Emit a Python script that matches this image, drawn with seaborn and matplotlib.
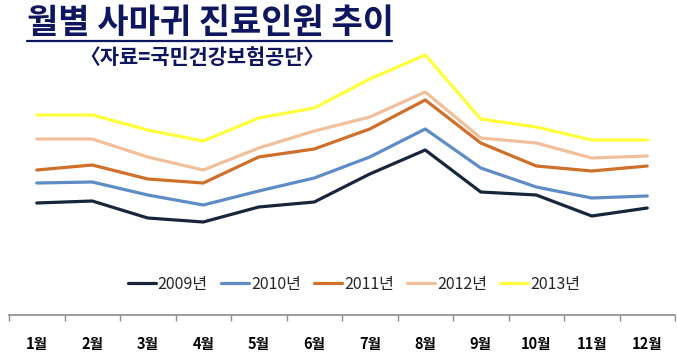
import matplotlib
matplotlib.use("Agg")
import matplotlib.pyplot as plt
from matplotlib.lines import Line2D
import seaborn as sns
import pandas as pd
import numpy as np

months = ["1월", "2월", "3월", "4월", "5월", "6월", "7월", "8월", "9월", "10월", "11월", "12월"]
years = ["2009년", "2010년", "2011년", "2012년", "2013년"]

# values (no y axis shown, relative units)
v2009 = [112, 114, 97, 93, 108, 113, 141, 165, 123, 120, 99, 107]
v2010 = [132, 133, 120, 110, 124, 137, 158, 186, 147, 128, 117, 119]
v2011 = [145, 150, 136, 132, 158, 166, 186, 215, 172, 149, 144, 149]
v2012 = [176, 176, 158, 145, 167, 184, 198, 223, 177, 172, 157, 159]
v2013 = [200, 200, 185, 174, 197, 207, 236, 260, 196, 188, 175, 175]

colors = ["#17263b", "#5e8cc6", "#cf6f2a", "#f2bf9b", "#ffff3c"]

sns.set_theme(style="white")
plt.rcParams["font.family"] = ["Noto Sans CJK KR", "DejaVu Sans"]

rows = []
for yr, vals in zip(years, [v2009, v2010, v2011, v2012, v2013]):
    for i, v in enumerate(vals):
        rows.append({"month": i, "value": v, "year": yr})
df = pd.DataFrame(rows)

fig = plt.figure(figsize=(6.77, 3.57), dpi=100)
ax = fig.add_axes([9 / 677, 42 / 357, 666 / 677, 275 / 357])

sns.lineplot(data=df, x="month", y="value", hue="year", palette=colors,
             linewidth=2.3, ax=ax, legend=False)

ax.set_xlim(-0.5, 11.5)
ax.set_ylim(0, 275)
ax.set_xlabel("")
ax.set_ylabel("")
ax.set_yticks([])
ax.set_xticks(range(12))
ax.set_xticklabels(months, fontsize=10.5, fontweight="bold", color="black")
ax.set_xticks(np.arange(-0.5, 12, 1), minor=True)
ax.tick_params(axis="x", which="major", length=0, pad=15)
ax.tick_params(axis="x", which="minor", length=4.5, width=1, color="#8c8c8c",
               direction="out", bottom=True)
for s in ["top", "left", "right"]:
    ax.spines[s].set_visible(False)
ax.spines["bottom"].set_color("#8c8c8c")
ax.spines["bottom"].set_linewidth(1.2)

handles = [Line2D([0], [0], color=c, lw=2.3) for c in colors]
fig.legend(handles, years, loc="center", bbox_to_anchor=(354 / 677, 1 - 284 / 357),
           ncol=5, frameon=False, fontsize=11.5, handlelength=1.75,
           handletextpad=0.1, columnspacing=0.85)

navy = "#0f1660"
fig.text(27 / 677, 1 - 22 / 357, "월별 사마귀 진료인원 추이", fontsize=24.5, fontweight="heavy",
         color=navy, va="center", ha="left")
fig.add_artist(Line2D([27 / 677, 392 / 677], [1 - 41 / 357, 1 - 41 / 357],
                      color=navy, lw=1.6, transform=fig.transFigure))
fig.text(79 / 677, 1 - 58 / 357, "〈자료=국민건강보험공단〉", fontsize=15,
         fontweight="bold", color=navy, va="center", ha="left")

fig.savefig("out.png", dpi=100, facecolor="white")
